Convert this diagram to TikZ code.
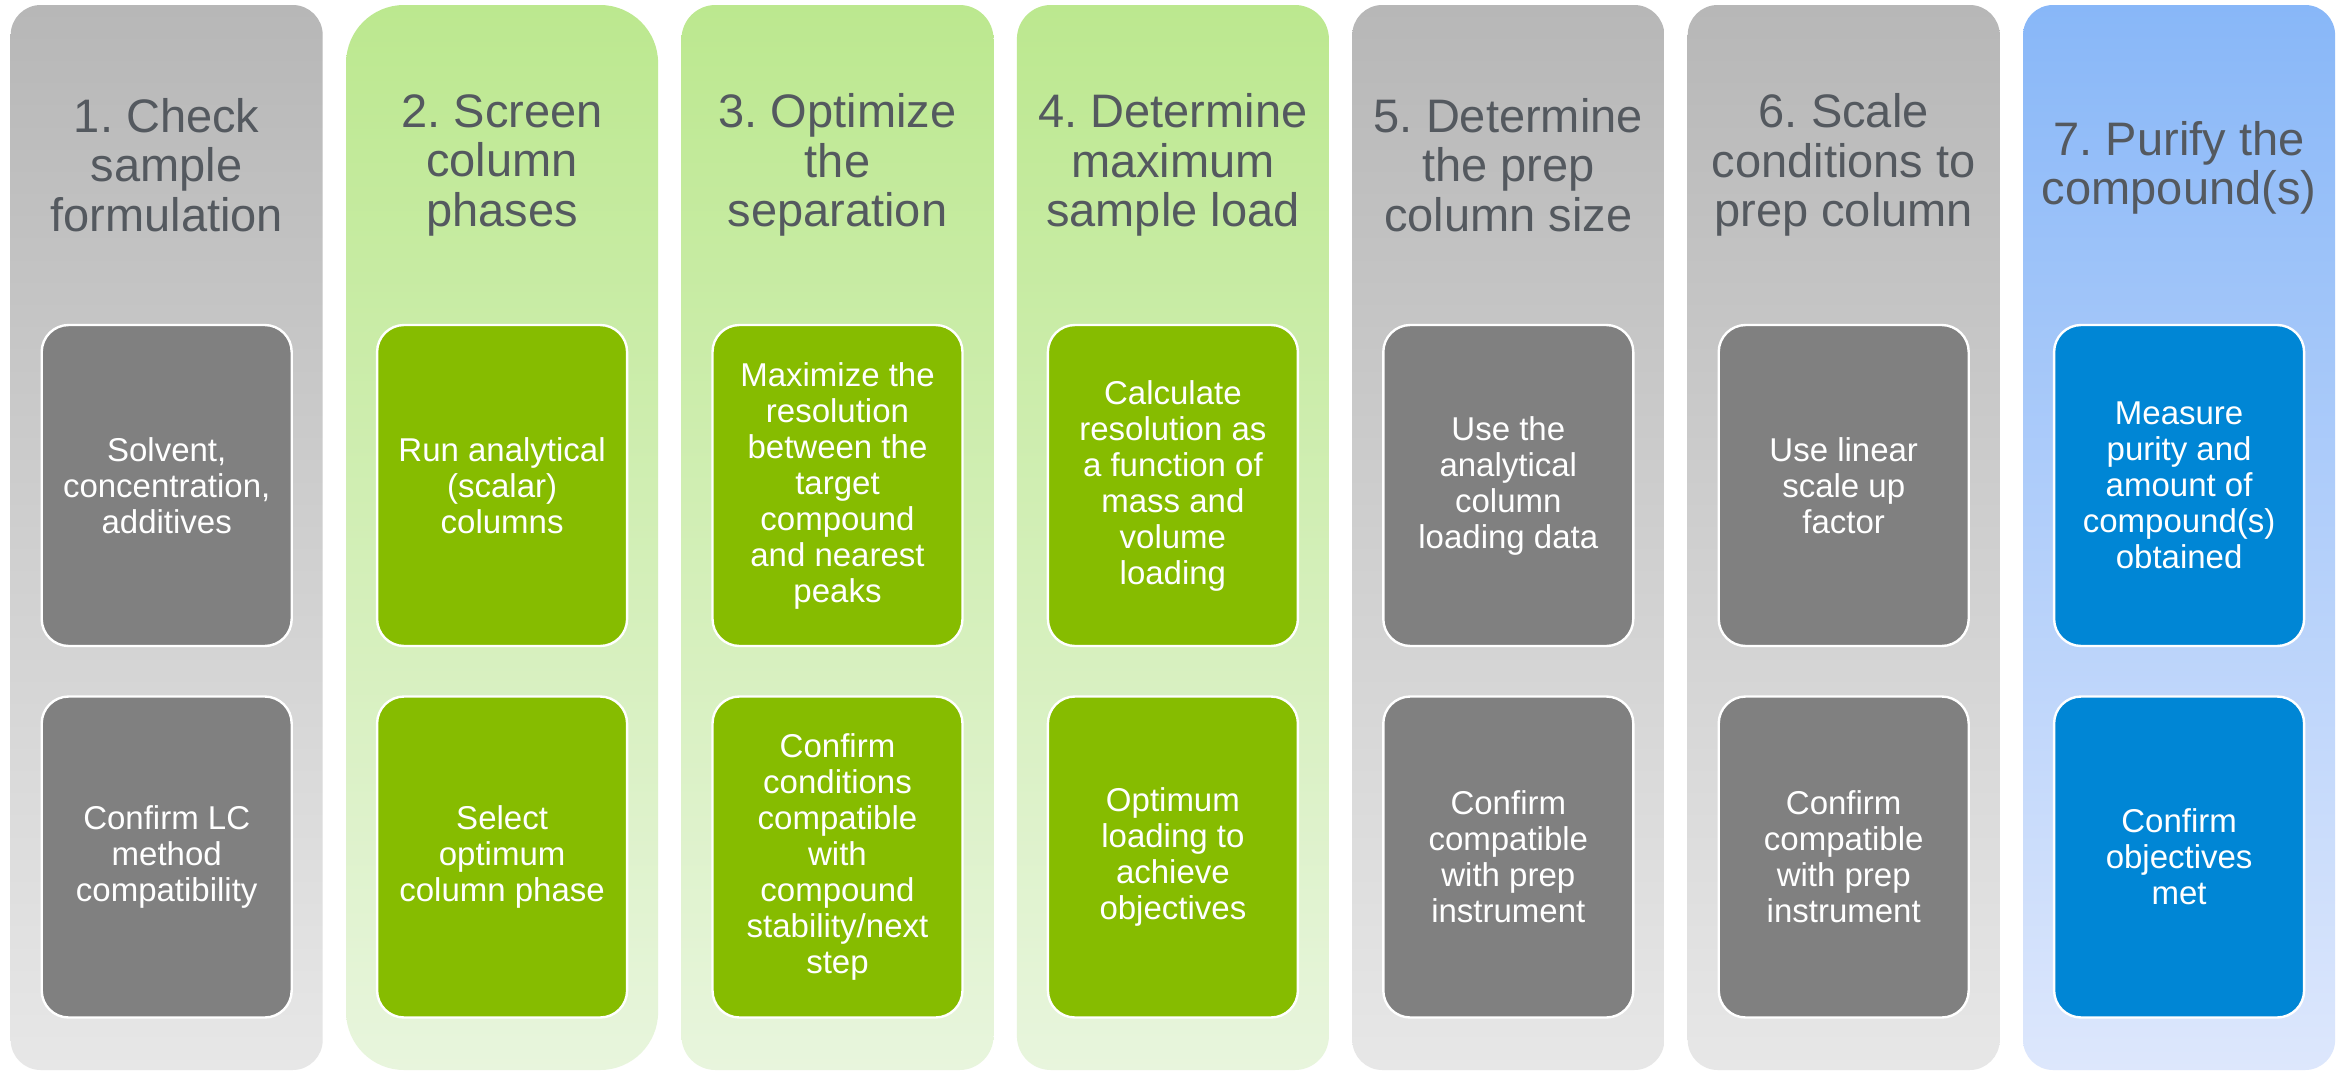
\documentclass[tikz,border=0pt]{standalone}
\usepackage{fontspec}
\setmainfont{Liberation Sans}
\frenchspacing
\definecolor{grayTop}{RGB}{183,183,183}
\definecolor{grayBot}{RGB}{231,231,231}
\definecolor{greenTop}{RGB}{188,232,143}
\definecolor{greenBot}{RGB}{232,245,221}
\definecolor{blueTop}{RGB}{136,183,248}
\definecolor{blueBot}{RGB}{221,231,252}
\definecolor{grayBox}{RGB}{128,128,128}
\definecolor{greenBox}{RGB}{134,188,0}
\definecolor{blueBox}{RGB}{0,134,213}
\definecolor{headText}{RGB}{84,89,95}
\begin{document}
\begin{tikzpicture}[x=0.5pt,y=-0.5pt,
  col/.style={rounded corners=15pt, minimum width=156pt, minimum height=532.5pt, inner sep=0pt, draw=none},
  graycol/.style={col, top color=grayTop, bottom color=grayBot},
  greencol/.style={col, top color=greenTop, bottom color=greenBot},
  bluecol/.style={col, top color=blueTop, bottom color=blueBot},
  head/.style={align=center, text=headText, font=\fontsize{23.5}{24.75}\selectfont\frenchspacing, inner sep=0pt},
  box/.style={rounded corners=13.5pt, minimum width=125pt, minimum height=160.5pt, draw=white, line width=1.2pt, align=center, text=white, font=\fontsize{16.5}{18}\selectfont, inner sep=0pt},
  graybox/.style={box, fill=grayBox},
  greenbox/.style={box, fill=greenBox},
  bluebox/.style={box, fill=blueBox}]
\useasboundingbox[fill=white] (0,0) rectangle (2346,1071);
% columns
\node[graycol] (c1) at (166.7,537.5) {};
\node[greencol, rounded corners=29pt] (c2) at (502.1,537.5) {};
\node[greencol, rounded corners=17pt] (c3) at (837.5,537.5) {};
\node[greencol, rounded corners=17pt] (c4) at (1172.9,537.5) {};
\node[graycol] (c5) at (1508.3,537.5) {};
\node[graycol] (c6) at (1843.7,537.5) {};
\node[bluecol] (c7) at (2179.1,537.5) {};
% headers
\node[head] (h1) at (166.7,165) {1. Check\\sample\\formulation};
\node[head] (h2) at (502.1,165) {2. Screen\\column\\phases};
\node[head] (h3) at (837.5,165) {3. Optimize\\the\\separation};
\node[head] (h4) at (1172.9,165) {4. Determine\\maximum\\sample load};
\node[head] (h5) at (1508.3,165) {5. Determine\\the prep\\column size};
\node[head] (h6) at (1843.7,165) {6. Scale\\conditions to\\prep column};
\node[head] (h7) at (2179.1,168) {7. Purify the\\compound(s)};
% upper boxes
\node[graybox] (a1) at (166.7,485.5) {Solvent,\\concentration,\\additives};
\node[greenbox] (a2) at (502.1,485.5) {Run analytical\\(scalar)\\columns};
\node[greenbox] (a3) at (837.5,485.5) {Maximize the\\resolution\\between the\\target\\compound\\and nearest\\peaks};
\node[greenbox] (a4) at (1172.9,485.5) {Calculate\\resolution as\\a function of\\mass and\\volume\\loading};
\node[graybox] (a5) at (1508.3,485.5) {Use the\\analytical\\column\\loading data};
\node[graybox] (a6) at (1843.7,485.5) {Use linear\\scale up\\factor};
\node[bluebox] (a7) at (2179.1,485.5) {Measure\\purity and\\amount of\\compound(s)\\obtained};
% lower boxes
\node[graybox] (b1) at (166.7,857) {Confirm LC\\method\\compatibility};
\node[greenbox] (b2) at (502.1,857) {Select\\optimum\\column phase};
\node[greenbox] (b3) at (837.5,857) {Confirm\\conditions\\compatible\\with\\compound\\stability/next\\step};
\node[greenbox] (b4) at (1172.9,857) {Optimum\\loading to\\achieve\\objectives};
\node[graybox] (b5) at (1508.3,857) {Confirm\\compatible\\with prep\\instrument};
\node[graybox] (b6) at (1843.7,857) {Confirm\\compatible\\with prep\\instrument};
\node[bluebox] (b7) at (2179.1,857) {Confirm\\objectives\\met};
\end{tikzpicture}
\end{document}
